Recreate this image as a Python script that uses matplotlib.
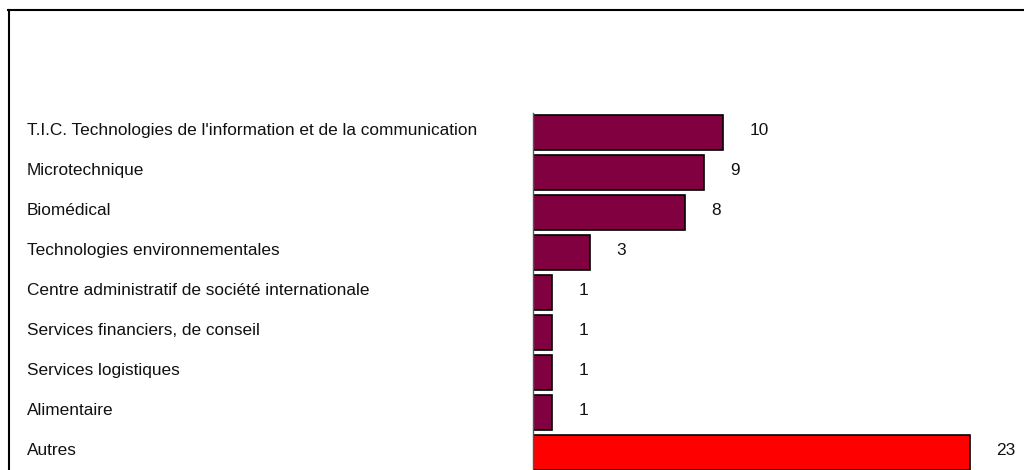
import matplotlib
matplotlib.use("Agg")
import matplotlib.pyplot as plt
from matplotlib import transforms
from matplotlib.lines import Line2D

plt.rcParams['font.family'] = ['Liberation Sans Narrow', 'Liberation Sans', 'DejaVu Sans']

# the data
categories = ["T.I.C. Technologies de l'information et de la communication",
              "Microtechnique",
              "Biomédical",
              "Technologies environnementales",
              "Centre administratif de société internationale",
              "Services financiers, de conseil",
              "Services logistiques",
              "Alimentaire",
              "Autres"]
values = [10, 9, 8, 3, 1, 1, 1, 1, 23]
colors = ['#800040'] * 8 + ['#FF0000']

W, H = 1024, 470
fig = plt.figure(figsize=(W / 100, H / 100), dpi=100)
ax = fig.add_axes([533 / W, 0, 1 - 533 / W, 357.5 / H])

pos = list(range(len(values)))
ax.barh(pos, values, height=0.875, color=colors, edgecolor='black', linewidth=1.2)

ax.set_xlim(0, (W - 533) / 19.0)
ax.set_ylim(8.4375, -0.5)
for s in ['top', 'right', 'bottom']:
    ax.spines[s].set_visible(False)
ax.spines['left'].set_color('#555555')
ax.spines['left'].set_linewidth(1.0)
ax.set_xticks([])
ax.set_yticks([])

# category names at the left edge of the figure
trans = transforms.blended_transform_factory(fig.transFigure, ax.transData)
for p, name in zip(pos, categories):
    ax.text(27 / W, p - 0.06, name, transform=trans, ha='left', va='center',
            fontsize=12.4, color='#111111', clip_on=False)

# value labels next to each bar
for p, v in zip(pos, values):
    ax.annotate(str(v), xy=(v, p - 0.06), xytext=(19, 0), textcoords='offset points',
                ha='left', va='center', fontsize=12.4, color='#111111',
                annotation_clip=False)

# frame around the chart (top and left edges)
fig.add_artist(Line2D([8 / W, 1], [1 - 10 / H, 1 - 10 / H], transform=fig.transFigure,
                      color='black', linewidth=1.5))
fig.add_artist(Line2D([8.5 / W, 8.5 / W], [0, 1 - 9.5 / H], transform=fig.transFigure,
                      color='black', linewidth=1.5))

fig.savefig('out.png', dpi=100)
